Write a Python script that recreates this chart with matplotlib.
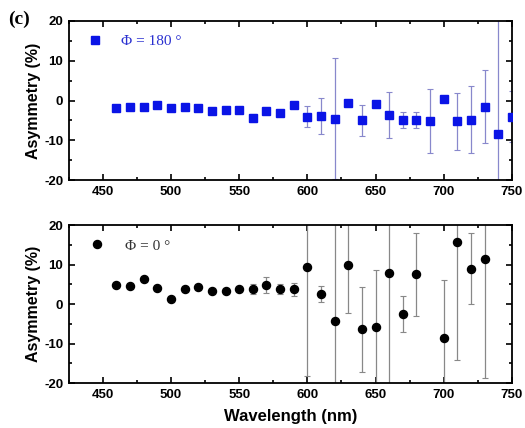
"""
Asymmetry vs wavelength for two azimuth angles (panel c)
"""

import matplotlib.pyplot as plt
from matplotlib.ticker import MultipleLocator

# Phi = 180 deg (blue squares)
wl_180 = [460, 470, 480, 490, 500, 510, 520, 530, 540, 550, 560, 570, 580, 590,
          600, 610, 620, 630, 640, 650, 660, 670, 680, 690, 700, 710, 720, 730, 740, 750]
asym_180 = [-1.8, -1.5, -1.6, -1.2, -1.9, -1.6, -1.9, -2.7, -2.3, -2.4, -4.4, -2.5, -3.2, -1.1,
            -4.0, -3.8, -4.6, -0.6, -5.0, -0.75, -3.7, -4.9, -4.9, -5.1, 0.4, -5.2, -4.8, -1.5, -8.3, -4.0]
err_180 = [0, 0, 0, 0, 0, 0, 0, 0, 0, 0, 1.1, 0, 0, 0,
           2.7, 4.5, 15.2, 0, 4.0, 0, 5.8, 2.0, 2.1, 8.1, 0, 7.2, 8.4, 9.1, 30, 6.4]

# Phi = 0 deg (black circles)
wl_0 = [460, 470, 480, 490, 500, 510, 520, 530, 540, 550, 560, 570, 580, 590,
        600, 610, 620, 630, 640, 650, 660, 670, 680, 700, 710, 720, 730]
asym_0 = [4.9, 4.7, 6.3, 4.1, 1.2, 3.8, 4.3, 3.2, 3.4, 3.8, 3.8, 4.9, 3.8, 3.7,
          9.4, 2.6, -4.4, 9.8, -6.4, -5.7, 7.8, -2.5, 7.6, -8.7, 15.8, 8.9, 11.4]
err_0 = [0, 0, 0, 0, 0, 0, 0, 0, 0, 0, 1.35, 2.0, 1.3, 1.6,
         27.5, 2.1, 30, 12, 10.7, 14.3, 30, 4.5, 10.5, 14.9, 30, 9.0, 30]

plt.rcParams["font.family"] = ["Liberation Sans", "DejaVu Sans"]
plt.rcParams["axes.unicode_minus"] = False

fig = plt.figure(figsize=(5.25, 4.28), dpi=100)
ax1 = fig.add_axes([0.131, 0.579, 0.844, 0.372])
ax2 = fig.add_axes([0.131, 0.105, 0.844, 0.369])


def style(ax):
    ax.set_xlim(425, 750)
    ax.set_ylim(-20, 20)
    ax.xaxis.set_major_locator(MultipleLocator(50))
    ax.xaxis.set_minor_locator(MultipleLocator(25))
    ax.yaxis.set_major_locator(MultipleLocator(10))
    ax.yaxis.set_minor_locator(MultipleLocator(5))
    ax.tick_params(which="both", direction="in", top=True, right=True,
                   width=1.2, labelsize=9.5, pad=4)
    ax.tick_params(which="major", length=4.5)
    ax.tick_params(which="minor", length=2.5)
    for lab in ax.get_xticklabels() + ax.get_yticklabels():
        lab.set_fontweight("bold")
    for sp in ax.spines.values():
        sp.set_linewidth(1.3)
    ax.set_ylabel("Asymmetry (%)", fontsize=11.5, fontweight="bold", labelpad=2)


def draw(ax, x, y, e, marker, color, ecolor, ms, label):
    # error bars only where an error was measured
    xe = [a for a, b in zip(x, e) if b > 0]
    ye = [a for a, b in zip(y, e) if b > 0]
    ee = [b for b in e if b > 0]
    ax.errorbar(xe, ye, yerr=ee, fmt="none", ecolor=ecolor, elinewidth=0.9,
                capsize=2.5, capthick=0.8)
    ax.plot(x, y, marker, color=color, ms=ms, ls="none", label=label, zorder=3)


draw(ax1, wl_180, asym_180, err_180, "s", "#0a14e6", "#8888cc", 5.2, "Φ = 180 °")
draw(ax2, wl_0, asym_0, err_0, "o", "black", "#888888", 5.8, "Φ = 0 °")

for ax in (ax1, ax2):
    style(ax)

leg1 = ax1.legend(loc="upper left", frameon=False, handletextpad=0.9,
                  prop={"family": "Liberation Serif", "size": 11},
                  borderaxespad=0.5, handlelength=1.6)
for t in leg1.get_texts():
    t.set_color("#2a30d0")
leg2 = ax2.legend(loc="upper left", frameon=False, handletextpad=0.9,
                  prop={"family": "Liberation Serif", "size": 11},
                  borderaxespad=0.5, handlelength=1.9)
for t in leg2.get_texts():
    t.set_color("#333333")

ax2.set_xlabel("Wavelength (nm)", fontsize=12, fontweight="bold", labelpad=6)

fig.text(0.015, 0.975, "(c)", fontsize=14, fontweight="bold",
         family="Liberation Serif", va="top")

fig.savefig("out.png", dpi=100)
